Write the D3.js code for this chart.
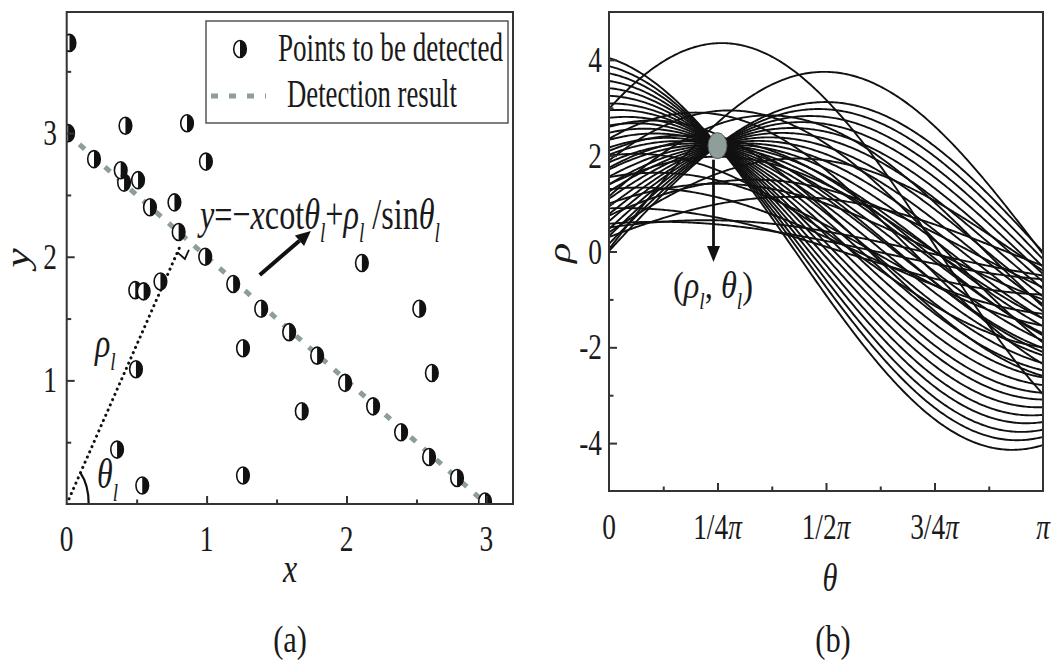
<!DOCTYPE html>
<html>
<head>
<meta charset="utf-8">
<script src="https://cdn.jsdelivr.net/npm/d3@7"></script>
<style>
  body { margin: 0; background: #fff; }
  svg { display: block; font-family: "Liberation Serif", "Times New Roman", serif; }
</style>
</head>
<body>
<svg id="chart" width="1053" height="666"></svg>
<script>
// ---- (a) image plane ----
const pointX = [0.01, 0.195, 0.41, 0.595, 0.80, 0.99, 1.19, 1.39, 1.59, 1.79, 1.99, 2.19, 2.39, 2.59, 2.79, 2.99,
                0.02, 0.42, 0.86, 0.995, 0.386, 0.51, 0.77, 2.11, 0.49, 0.55, 0.67, 2.52, 1.26, 0.495, 2.61, 1.68, 0.36, 1.26, 0.54];
const pointY = [3.00, 2.79, 2.60, 2.40, 2.20, 2.00, 1.78, 1.58, 1.39, 1.20, 0.98, 0.79, 0.58, 0.38, 0.21, 0.02,
                3.73, 3.06, 3.08, 2.77, 2.70, 2.62, 2.44, 1.95, 1.73, 1.72, 1.80, 1.58, 1.26, 1.09, 1.06, 0.75, 0.44, 0.23, 0.15];
const resultX = [0, 3];
const resultY = [3, 0];
const footX = 0.82, footY = 2.11;          // end of the rho_l segment
const xTicks = [0, 1, 2, 3];
const yTicks = [1, 2, 3];

// ---- (b) Hough space: rho(theta) = rho0*cos(theta) + rho90*sin(theta) ----
const rho0 = [4.04, 3.87, 3.72, 3.56, 3.41, 3.25, 3.09, 2.95, 2.79, 2.63, 2.48, 2.33, 2.17, 2.02, 1.86, 1.71, 1.56, 1.40,
              1.25, 1.10, 0.94, 0.78, 0.63, 0.47, 0.32, 0.16, 0.01,
              2.98, 0.05, 1.90, 2.35, 1.15, 0.50, 0.58, 1.00, 1.55, 0.75, 2.60, 1.75,
              0.30, 1.30, 2.10, 0.90, 1.40, 2.00, 0.40];
const rho90 = [-0.91, -0.74, -0.59, -0.43, -0.28, -0.12, 0.04, 0.18, 0.34, 0.50, 0.65, 0.80, 0.96, 1.11, 1.27, 1.42, 1.57, 1.73,
               1.88, 2.03, 2.19, 2.35, 2.50, 2.66, 2.81, 2.97, 3.12,
               3.17, 3.75, 2.25, 1.70, 2.60, 0.42, 0.22, 1.00, 0.55, 1.30, 0.85, 1.55,
               1.10, 0.30, 1.20, 0.10, 1.40, 0.40, 1.90];
const thetaTicks = [0, 0.25, 0.5, 0.75, 1];   // in units of pi
const thetaTickLabels = [["0"], ["1/4", "π"], ["1/2", "π"], ["3/4", "π"], ["", "π"]];
const rhoTicks = [-4, -2, 0, 2, 4];
const peakTheta = 0.25, peakRho = 2.21;

const SX = 0.76;   // the figure is squeezed horizontally
const INK = "#1a1a1a", FRAME = "#333";
const TICK_FONT = 36;

const svg = d3.select("#chart");
const defs = svg.append("defs");

const xA = d3.scaleLinear([0, 3.19], [66.7, 513]);
const yA = d3.scaleLinear([0, 3.98], [504, 12]);
const tB = d3.scaleLinear([0, 1], [609, 1043]);
const rB = d3.scaleLinear([-5, 5], [491, 12]);

function clip(id, x, y) {
  defs.append("clipPath").attr("id", id).append("rect")
    .attr("x", x.range()[0]).attr("y", y.range()[1])
    .attr("width", x.range()[1] - x.range()[0]).attr("height", y.range()[0] - y.range()[1]);
}
clip("clipA", xA, yA);
clip("clipB", tB, rB);

// text helpers
function rich(t, size, parts) {
  let down = 0;
  for (const [s, k] of parts) {
    const sp = t.append("tspan").text(s);
    if (k) sp.attr("font-style", "italic");
    const d = k === "s" ? size * 0.3 : 0;
    if (d !== down) { sp.attr("dy", d - down); down = d; }
    if (k === "s") sp.attr("font-size", size * 0.6);
  }
}
function label(g, x, y, size, anchor, parts, sx = SX) {
  const t = g.append("text").attr("font-size", size).attr("text-anchor", anchor).attr("fill", INK)
    .attr("transform", `translate(${x},${y}) scale(${sx},1)`);
  rich(t, size, parts);
  return t;
}
function fit(g, x, y, w, size, parts) {
  const t = g.append("text").attr("font-size", size).attr("fill", INK);
  rich(t, size, parts);
  const bw = t.node().getBBox().width;
  t.attr("transform", `translate(${x},${y}) scale(${w / bw},1)`);
  return t;
}
function upright(g, cx, cy, size, str) {   // rotated axis title, centred on (cx, cy)
  g.append("text").attr("font-size", size).attr("font-style", "italic").attr("text-anchor", "middle").attr("fill", INK)
    .attr("transform", `translate(${cx + 0.115 * size * SX},${cy}) scale(${SX},1) rotate(-90)`).text(str);
}
function ticks(g, axis, major, minor, pos) {
  [[major, -8], [minor, -4.5]].forEach(([vals, len]) => {
    const a = g.append("g").attr("transform", pos)
      .call(axis.tickValues(vals).tickSize(len).tickFormat(""));
    a.select(".domain").remove();
    a.selectAll("line").attr("stroke", FRAME).attr("stroke-width", 2);
  });
}
function frame(g, x, y) {
  g.append("rect").attr("x", x.range()[0]).attr("y", y.range()[1])
    .attr("width", x.range()[1] - x.range()[0]).attr("height", y.range()[0] - y.range()[1])
    .attr("fill", "none").attr("stroke", FRAME).attr("stroke-width", 2);
}
function arrow(g, x1, y1, x2, y2, w, head, half) {
  const L = Math.hypot(x2 - x1, y2 - y1), ux = (x2 - x1) / L, uy = (y2 - y1) / L;
  const bx = x2 - ux * head, by = y2 - uy * head;
  g.append("line").attr("x1", x1).attr("y1", y1).attr("x2", bx).attr("y2", by)
    .attr("stroke", "#111").attr("stroke-width", w);
  g.append("path").attr("fill", "#111")
    .attr("d", `M${x2},${y2}L${bx - uy * half},${by + ux * half}L${bx + uy * half},${by - ux * half}Z`);
}

const RX = 6.3, RY = 8.5;
function marker(sel) {
  sel.append("path").attr("d", `M0,${-RY}A${RX},${RY} 0 0 0 0,${RY}Z`).attr("fill", "#fff");
  sel.append("path").attr("d", `M0,${-RY}A${RX},${RY} 0 0 1 0,${RY}Z`).attr("fill", "#111");
  sel.append("ellipse").attr("rx", RX).attr("ry", RY).attr("fill", "none")
    .attr("stroke", "#111").attr("stroke-width", 1.6);
}

// ================= panel (a) =================
const A = svg.append("g");
const plotA = A.append("g").attr("clip-path", "url(#clipA)");

// detection result
plotA.append("path")
  .attr("d", d3.line()(d3.zip(resultX.map(xA), resultY.map(yA))))
  .attr("stroke", "#8d9e98").attr("stroke-width", 5).attr("stroke-dasharray", "7 10").attr("fill", "none");

// rho_l segment, right-angle mark and theta_l arc
const ox = xA(0), oy = yA(0), fx = xA(footX), fy = yA(footY);
plotA.append("line").attr("x1", ox).attr("y1", oy).attr("x2", fx).attr("y2", fy)
  .attr("stroke", "#111").attr("stroke-width", 3).attr("stroke-linecap", "round").attr("stroke-dasharray", "0.1 5.6");
{
  const L = Math.hypot(fx - ox, fy - oy), ux = (fx - ox) / L, uy = (fy - oy) / L;
  const lx0 = xA(resultX[0]), ly0 = yA(resultY[0]), lx1 = xA(resultX[1]), ly1 = yA(resultY[1]);
  const LL = Math.hypot(lx1 - lx0, ly1 - ly0), dx = (lx1 - lx0) / LL, dy = (ly1 - ly0) / LL;
  const s = 10;
  plotA.append("path").attr("fill", "none").attr("stroke", "#111").attr("stroke-width", 1.8)
    .attr("d", `M${fx + s * dx},${fy + s * dy}L${fx + s * dx - s * ux},${fy + s * dy - s * uy}L${fx - s * ux},${fy - s * uy}`);
  const ax = 22, ay = 40;
  const k = 1 / Math.sqrt(((fx - ox) / ax) ** 2 + ((fy - oy) / ay) ** 2);
  plotA.append("path").attr("fill", "none").attr("stroke", "#111").attr("stroke-width", 2.2)
    .attr("d", `M${ox + ax},${oy}A${ax},${ay} 0 0 0 ${ox + (fx - ox) * k},${oy + (fy - oy) * k}`);
}

// points
plotA.selectAll("g.pt").data(d3.zip(pointX, pointY)).join("g").attr("class", "pt")
  .attr("transform", d => `translate(${xA(d[0])},${yA(d[1])})`)
  .call(marker);

frame(A, xA, yA);
ticks(A, d3.axisBottom(xA), [1, 2, 3], [0.5, 1.5, 2.5], `translate(0,${yA(0)})`);
ticks(A, d3.axisLeft(yA), [1, 2, 3], [0.5, 1.5, 2.5, 3.5], `translate(${xA(0)},0)`);

xTicks.forEach(v => label(A, xA(v), 551, TICK_FONT, "middle", [[String(v)]]));
yTicks.forEach(v => label(A, 57, yA(v) + 12, TICK_FONT, "end", [[String(v)]]));
label(A, 290, 582, 42, "middle", [["x", "i"]]);
upright(A, 25, 258, 44, "y");
label(A, 290, 652, 38, "middle", [["(a)"]], 0.8);

// legend
A.append("rect").attr("x", 206).attr("y", 21).attr("width", 302).attr("height", 102)
  .attr("fill", "#fff").attr("stroke", "#555").attr("stroke-width", 1.5);
A.append("g").attr("transform", "translate(240,49)").call(marker);
A.append("line").attr("x1", 211).attr("x2", 266).attr("y1", 96).attr("y2", 96)
  .attr("stroke", "#8d9e98").attr("stroke-width", 5).attr("stroke-dasharray", "7 11");
fit(A, 278, 61, 225, 40, [["Points to be detected"]]);
fit(A, 287, 107, 170, 40, [["Detection result"]]);

// annotations
fit(A, 200, 229, 243, 44, [["y", "i"], ["=−"], ["x", "i"], ["cot"], ["θ", "i"], ["l", "s"], ["+"], ["ρ", "i"], ["l", "s"],
  [" /sin"], ["θ", "i"], ["l", "s"]]);
arrow(A, xA(1.38), yA(1.853), xA(1.745), yA(2.209), 4, 15, 7);
label(A, 95, 357, 42, "start", [["ρ", "i"], ["l", "s"]]);
label(A, 97, 488, 42, "start", [["θ", "i"], ["l", "s"]]);

// ================= panel (b) =================
const B = svg.append("g");
const plotB = B.append("g").attr("clip-path", "url(#clipB)");
const thetaSamples = d3.range(0, 1.0001, 0.004);
const curve = d3.line().x(d => tB(d[0])).y(d => rB(d[1]));

plotB.selectAll("path.hough").data(d3.zip(rho0, rho90)).join("path").attr("class", "hough")
  .attr("d", ([a, b]) => curve(thetaSamples.map(t => [t, a * Math.cos(t * Math.PI) + b * Math.sin(t * Math.PI)])))
  .attr("fill", "none").attr("stroke", "#111").attr("stroke-width", 1.9);

plotB.append("ellipse").attr("cx", tB(peakTheta)).attr("cy", rB(peakRho)).attr("rx", 9.5).attr("ry", 13)
  .attr("fill", "#8e9f9b").attr("stroke", "#555").attr("stroke-width", 1);
arrow(B, tB(peakTheta) - 4, rB(peakRho) + 14, tB(peakTheta) - 4, rB(-0.22), 2.8, 16, 6.5);

frame(B, tB, rB);
ticks(B, d3.axisBottom(tB), [0.25, 0.5, 0.75], [0.125, 0.375, 0.625, 0.875], `translate(0,${rB(-5)})`);
ticks(B, d3.axisLeft(rB), [-4, -2, 0, 2, 4], [-3, -1, 1, 3], `translate(${tB(0)},0)`);

thetaTicks.forEach((v, i) => {
  const [num, pi] = thetaTickLabels[i];
  const parts = [[num]];
  if (pi) parts.push([pi, "i"]);
  label(B, tB(v), 539, TICK_FONT, "middle", parts);
});
rhoTicks.forEach(v => label(B, 602, rB(v) + 12, TICK_FONT, "end", [[String(v)]]));
label(B, 830, 591, 40, "middle", [["θ", "i"]]);
upright(B, 566, 253, 42, "ρ");
label(B, 833, 652, 38, "middle", [["(b)"]], 0.8);
fit(B, 673, 298, 80, 38, [["("], ["ρ", "i"], ["l", "s"], [", "], ["θ", "i"], ["l", "s"], [")"]]);
</script>
</body>
</html>
